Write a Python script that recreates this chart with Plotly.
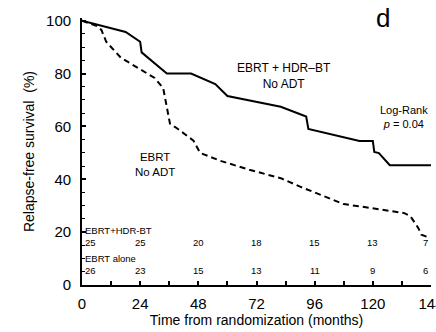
import plotly.graph_objects as go

# Relapse-free survival curves (months, %)
hdr_months = [0, 18, 24, 24.6, 35, 45, 55, 60, 82, 92.5, 93.4, 114.5, 120, 120.6, 122.5, 127, 144]
hdr_rfs = [100, 95.7, 92, 88, 80, 80, 76, 71.5, 67.4, 63.7, 59, 54.5, 54.5, 50.3, 49.9, 45.3, 45.3]

ebrt_months = [0, 6.5, 8, 10, 16, 21, 30, 33.5, 35, 36.3, 39, 46, 48.7, 57, 69, 82, 90,
               108, 115, 133, 135.5, 138.8, 140, 143]
ebrt_rfs = [100, 97.8, 96.5, 92, 86, 83.3, 78.3, 74.5, 67.5, 61, 59.4, 54.6, 50, 47, 43.6,
            40.4, 37.2, 30.6, 29.7, 27.2, 26, 21.5, 19, 18]

# Numbers at risk
risk_times = [0, 24, 48, 72, 96, 120, 144]
risk_hdr = [25, 25, 20, 18, 15, 13, 7]
risk_ebrt = [26, 23, 15, 13, 11, 9, 6]

x_ticks = [0, 24, 48, 72, 96, 120, 144]
y_ticks = [0, 20, 40, 60, 80, 100]

FONT = "Liberation Sans, Arial, sans-serif"
W, H = 436, 332
M = dict(l=82, r=5, t=18, b=47)

fig = go.Figure()
fig.add_trace(go.Scatter(x=hdr_months, y=hdr_rfs, mode="lines",
                         line=dict(color="black", width=2), name="EBRT + HDR-BT"))
fig.add_trace(go.Scatter(x=ebrt_months, y=ebrt_rfs, mode="lines",
                         line=dict(color="black", width=2, dash="6px,4px"), name="EBRT"))

ann = []

def text(x, y, s, size, xanchor="center"):
    ann.append(dict(x=x, y=y, xref="x", yref="y", text=s, showarrow=False,
                    xanchor=xanchor, yanchor="middle",
                    font=dict(family=FONT, size=size, color="black")))

text(83.5, 78.9, "EBRT + HDR\u2013BT<br>No ADT", 12)
text(132.8, 63.6, "Log-Rank<br><i>p</i> = 0.04", 11)
text(30.0, 45.5, "EBRT<br>No ADT", 11.5)

# Panel letter above the plotting area (paper coords are relative to the plot area)
plot_w = W - M["l"] - M["r"]
plot_h = H - M["t"] - M["b"]
ann.append(dict(x=(382.5 - M["l"]) / plot_w, y=(H - M["b"] - 18.3) / plot_h,
                xref="paper", yref="paper", text="d", showarrow=False,
                xanchor="center", yanchor="middle",
                font=dict(family=FONT, size=26, color="black")))

# Numbers-at-risk table
text(0.3, 20.8, "EBRT+HDR-BT", 9.5, "left")
text(0.3, 10.0, "EBRT alone", 9.5, "left")
for i, t in enumerate(risk_times):
    xa = "left" if i == 0 else ("right" if i == len(risk_times) - 1 else "center")
    xt = t + 0.3 if i == 0 else (t - 0.5 if i == len(risk_times) - 1 else t)
    text(xt, 15.9, str(risk_hdr[i]), 9.5, xa)
    text(xt, 5.3, str(risk_ebrt[i]), 9.5, xa)

fig.update_layout(
    width=W, height=H,
    margin=M,
    paper_bgcolor="white", plot_bgcolor="white",
    showlegend=False,
    annotations=ann,
    font=dict(family=FONT, color="black"),
)

fig.update_xaxes(
    range=[0, 144], tickvals=x_ticks, ticktext=[str(v) for v in x_ticks],
    showgrid=False, zeroline=False, showline=True, linecolor="black", linewidth=1.8,
    ticks="inside", ticklen=4, tickwidth=1.5, tickcolor="black",
    minor=dict(dtick=12, tick0=0, ticks="inside", ticklen=4, tickwidth=1.5, tickcolor="black"),
    tickfont=dict(size=15, family=FONT), ticklabelstandoff=4, ticklabeloverflow="allow",
    automargin=False,
    title=dict(text="Time from randomization (months)", font=dict(size=14, family=FONT), standoff=4),
)
fig.update_yaxes(
    range=[0, 101], tickvals=y_ticks, ticktext=[str(v) for v in y_ticks],
    showgrid=False, zeroline=False, showline=True, linecolor="black", linewidth=1.8,
    ticks="inside", ticklen=4, tickwidth=1.5, tickcolor="black",
    minor=dict(dtick=5, tick0=0, ticks="inside", ticklen=3, tickwidth=1.2, tickcolor="black"),
    tickfont=dict(size=15, family=FONT), ticklabelstandoff=6, automargin=False,
    title=dict(text="Relapse-free survival  (%)", font=dict(size=14, family=FONT), standoff=8),
)

fig.write_html("out.html")
